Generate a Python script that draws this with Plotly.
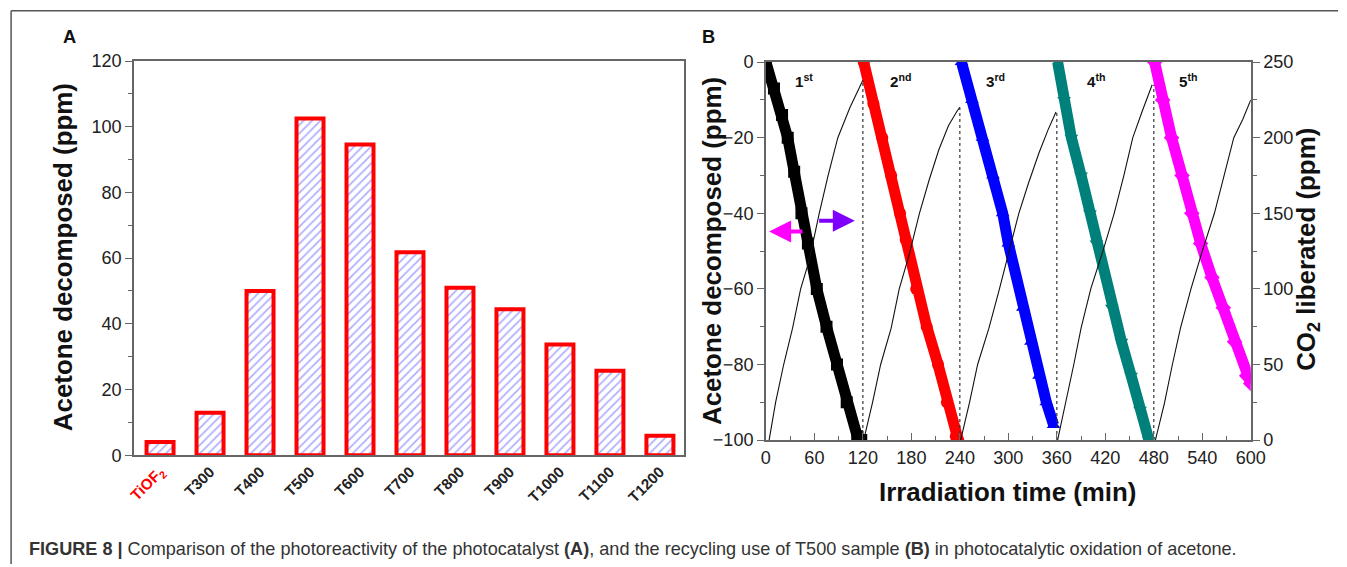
import plotly.graph_objects as go

# Empirical page->picture transform observed in previous renders:
#   picture_x = 0.984 * fig_x + 5.9 ;  picture_y = 0.96 * fig_y + 10.2
SX, OX = 0.984, 5.9
SY, OY = 0.96, 10.2
W, H = 1353, 574
FS = 1.0 / SX   # font compensation

# ---------------- Panel A data ----------------
samples = ["TiOF2", "T300", "T400", "T500", "T600", "T700", "T800", "T900", "T1000", "T1100", "T1200"]
sample_labels = ["<span style='color:red'>TiOF<sub>2</sub></span>", "T300", "T400", "T500", "T600",
                 "T700", "T800", "T900", "T1000", "T1100", "T1200"]
decomposed = [4.0, 12.9, 50.0, 102.5, 94.6, 61.8, 51.0, 44.4, 33.7, 25.7, 5.9]

# ---------------- Panel B data ----------------
c1_t = [0, 10, 20, 27, 35, 44, 52, 63, 75, 88, 100, 113, 118]
c1_v = [0, -7, -14, -20, -29, -40, -48, -60, -70, -80, -90, -99, -100]
c2_t = [121, 133, 144, 155, 166, 173, 186, 199, 213, 224, 235, 238]
c2_v = [0, -11, -20, -30, -40, -47, -60, -70, -80, -90, -99, -100]
c3_t = [242, 255, 268, 281, 293, 300, 318, 328, 338, 347, 356]
c3_v = [0, -10, -20, -30, -40, -48, -65, -74, -83, -90, -96]
c4_t = [361, 369, 378, 390, 401, 409, 428, 440, 452, 463, 474]
c4_v = [0, -10, -20, -30, -40, -48, -65, -74, -83, -92, -100]
c5_t = [481, 491, 502, 515, 527, 538, 552, 566, 580, 595, 600]
c5_v = [0, -10, -20, -30, -40, -48, -57, -65, -74, -83, -85]

co2_1_t = [4, 12, 22, 33, 43, 52, 58, 66, 77, 89, 104, 120]
co2_1_v = [0, 25, 50, 74, 100, 116, 130, 150, 175, 200, 220, 238]
co2_2_t = [121, 132, 142, 155, 165, 177, 190, 202, 214, 226, 237, 240]
co2_2_v = [0, 25, 50, 74, 100, 122, 150, 172, 192, 208, 218, 220]
co2_3_t = [241, 252, 262, 276, 289, 303, 313, 325, 338, 349, 359]
co2_3_v = [0, 25, 50, 74, 100, 130, 150, 170, 190, 205, 217]
co2_4_t = [361, 371, 381, 390, 402, 417, 431, 443, 454, 466, 478]
co2_4_v = [0, 24, 50, 74, 100, 125, 150, 175, 200, 218, 235]
co2_5_t = [482, 493, 503, 513, 526, 540, 555, 567, 579, 590, 600]
co2_5_v = [0, 24, 50, 74, 100, 125, 150, 175, 200, 212, 225]

cycle_ends = [120, 240, 360, 480]
cycle_peaks = [238, 220, 217, 235]
cycle_labels = ["1<sup>st</sup>", "2<sup>nd</sup>", "3<sup>rd</sup>", "4<sup>th</sup>", "5<sup>th</sup>"]
cycle_label_t = [34, 151, 270, 395, 509]

FONT = "Arial, Liberation Sans, sans-serif"


def px(p):
    return ((p - OX) / SX) / W


def py(p):
    return 1 - ((p - OY) / SY) / H


def fs(s):
    return round(s * FS, 1)


fig = go.Figure()

# Panel A bars
fig.add_trace(go.Bar(
    x=list(range(len(samples))), y=decomposed, width=0.54,
    marker=dict(color="white", line=dict(color="#ff0000", width=4),
                pattern=dict(shape="/", fgcolor="#6060ff", bgcolor="white", size=6, solidity=0.3)),
    xaxis="x", yaxis="y", showlegend=False))

# Panel B decomposition bands
bands = [(c1_t, c1_v, "#000000", "square"), (c2_t, c2_v, "#ff0000", "circle"),
         (c3_t, c3_v, "#0000ff", "triangle-up"), (c4_t, c4_v, "#00807a", "triangle-down"),
         (c5_t, c5_v, "#ff00ff", "diamond")]
for t, v, col, sym in bands:
    fig.add_trace(go.Scatter(x=t, y=v, mode="lines+markers",
                             line=dict(color=col, width=11),
                             marker=dict(color=col, symbol=sym, size=12),
                             xaxis="x2", yaxis="y2", showlegend=False))

# dotted cycle boundaries (on CO2 axis)
for te, pk in zip(cycle_ends, cycle_peaks):
    fig.add_trace(go.Scatter(x=[te, te], y=[0, pk], mode="lines",
                             line=dict(color="#333", width=1.2, dash="dot"),
                             xaxis="x2", yaxis="y3", showlegend=False))

# CO2 lines
for t, v in [(co2_1_t, co2_1_v), (co2_2_t, co2_2_v), (co2_3_t, co2_3_v),
             (co2_4_t, co2_4_v), (co2_5_t, co2_5_v)]:
    fig.add_trace(go.Scatter(x=t, y=v, mode="lines", line=dict(color="#111", width=1.1),
                             xaxis="x2", yaxis="y3", showlegend=False))

tickfont = dict(family=FONT, size=fs(17.8), color="#222")
axis_common = dict(showline=True, linecolor="#666", linewidth=1.5, mirror=True,
                   showgrid=False, zeroline=False, tickcolor="#666", tickfont=tickfont)

fig.update_layout(
    width=W, height=H, margin=dict(l=0, r=0, t=0, b=0),
    paper_bgcolor="white", plot_bgcolor="white",
    xaxis=dict(domain=[px(133), px(683)], range=[-0.52, 10.48], anchor="y",
               tickmode="array", tickvals=list(range(len(samples))), ticktext=sample_labels,
               tickangle=-45, ticks="", showline=True, linecolor="#666", linewidth=1.5,
               mirror=True, showgrid=False, zeroline=False,
               tickfont=dict(family=FONT, size=fs(15), color="#222", weight="bold")),
    yaxis=dict(domain=[py(453), py(61)], range=[0, 120], anchor="x", dtick=20,
               ticks="outside", ticklen=7,
               minor=dict(dtick=10, ticks="outside", ticklen=4, tickcolor="#666"),
               **axis_common),
    xaxis2=dict(domain=[px(765), px(1250)], range=[0, 600], anchor="y2", dtick=60,
                ticks="inside", ticklen=7,
                minor=dict(dtick=30, ticks="inside", ticklen=4, tickcolor="#666"),
                **axis_common),
    yaxis2=dict(domain=[py(438), py(62)], range=[-100, 0], anchor="x2", dtick=20,
                ticks="outside", ticklen=7,
                minor=dict(dtick=10, ticks="outside", ticklen=4, tickcolor="#666"),
                **axis_common),
    yaxis3=dict(range=[0, 250], anchor="x2", overlaying="y2", side="right", dtick=50,
                ticks="outside", ticklen=7,
                minor=dict(dtick=25, ticks="outside", ticklen=4, tickcolor="#666"),
                showline=True, linecolor="#666", linewidth=1.5, showgrid=False, zeroline=False,
                tickcolor="#666", tickfont=tickfont),
)

ann = []
title_font = dict(family=FONT, size=fs(25.5), color="#111", weight="bold")


def centered(text, x, y, **kw):
    d = dict(text=text, x=px(x), y=py(y), xref="paper", yref="paper", xanchor="center",
             yanchor="middle", showarrow=False)
    d.update(kw)
    return d


ann.append(centered("Acetone decomposed (ppm)", 62, 256, textangle=-90, font=title_font))
ann.append(centered("Acetone decomposed (ppm)", 711, 250, textangle=-90, font=title_font))
ann.append(centered("CO<sub>2</sub> liberated (ppm)", 1307, 248, textangle=-90, font=title_font))
ann.append(centered("Irradiation time (min)", 1007, 490, font=title_font))
ann.append(centered("<b>A</b>", 68, 37, font=dict(family=FONT, size=fs(18), color="#111")))
ann.append(centered("<b>B</b>", 708, 37, font=dict(family=FONT, size=fs(18), color="#111")))

for lab, t in zip(cycle_labels, cycle_label_t):
    ann.append(dict(text="<b>" + lab + "</b>", x=t, y=-5, xref="x2", yref="y2", xanchor="left",
                    yanchor="middle", showarrow=False, font=dict(family=FONT, size=fs(15), color="#111")))

# arrows
ann.append(dict(x=4, y=-44.8, ax=47, ay=-44.8, xref="x2", yref="y2", axref="x2", ayref="y2",
                showarrow=True, arrowhead=2, arrowsize=1.1, arrowwidth=4, arrowcolor="#ff00ff", text=""))
ann.append(dict(x=110, y=-42, ax=64, ay=-42, xref="x2", yref="y2", axref="x2", ayref="y2",
                showarrow=True, arrowhead=2, arrowsize=1.1, arrowwidth=4, arrowcolor="#8000ff", text=""))

ann.append(dict(text="<b>FIGURE 8 |</b> Comparison of the photoreactivity of the photocatalyst <b>(A)</b>, "
                     "and the recycling use of T500 sample <b>(B)</b> in photocatalytic oxidation of acetone.",
                x=px(26), y=py(546), xref="paper", yref="paper", xanchor="left", yanchor="middle",
                showarrow=False,
                font=dict(family="Liberation Sans, Arial, sans-serif", size=18.1, color="#333")))
fig.update_layout(annotations=ann)

fig.update_layout(shapes=[
    dict(type="line", xref="paper", yref="paper", x0=px(10), x1=1, y0=py(11), y1=py(11),
         line=dict(color="#555", width=1.5)),
    dict(type="line", xref="paper", yref="paper", x0=px(10), x1=px(10), y0=0, y1=py(11),
         line=dict(color="#555", width=1.5)),
])

fig.write_html("out.html")
